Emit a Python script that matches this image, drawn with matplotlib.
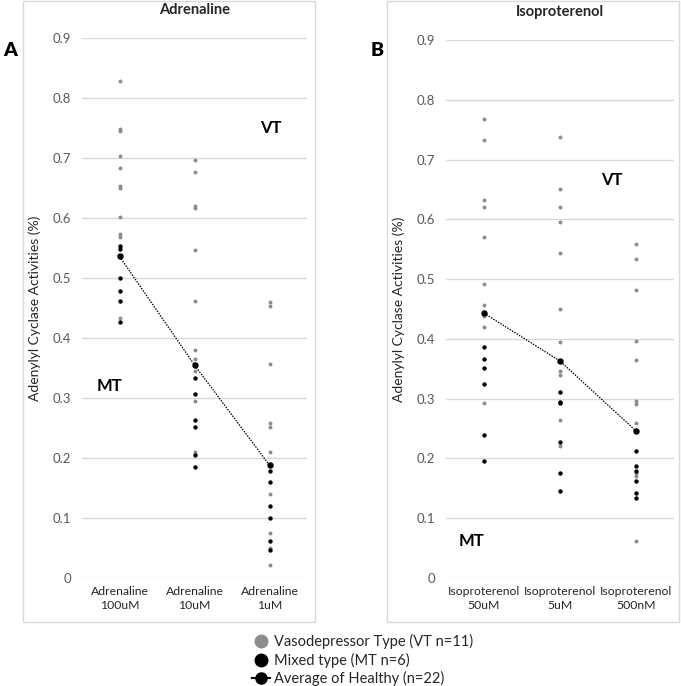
import matplotlib
matplotlib.use("Agg")
import matplotlib.pyplot as plt
from matplotlib.lines import Line2D
from matplotlib.patches import Rectangle

plt.rcParams['font.family'] = ['Lato', 'DejaVu Sans']

# data
adr_labels = ["Adrenaline\n100uM", "Adrenaline\n10uM", "Adrenaline\n1uM"]
adr_vt = [
    [0.828, 0.748, 0.745, 0.704, 0.684, 0.653, 0.650, 0.602, 0.573, 0.569, 0.433],
    [0.696, 0.676, 0.620, 0.617, 0.546, 0.462, 0.380, 0.365, 0.345, 0.295, 0.210],
    [0.460, 0.453, 0.356, 0.259, 0.251, 0.210, 0.190, 0.140, 0.075, 0.050, 0.022],
]
adr_mt = [
    [0.554, 0.548, 0.500, 0.478, 0.461, 0.426],
    [0.333, 0.307, 0.263, 0.252, 0.205, 0.185],
    [0.178, 0.160, 0.120, 0.100, 0.062, 0.047],
]
adr_avg = [0.536, 0.355, 0.188]

iso_labels = ["Isoproterenol\n50uM", "Isoproterenol\n5uM", "Isoproterenol\n500nM"]
iso_vt = [
    [0.768, 0.732, 0.632, 0.621, 0.570, 0.492, 0.457, 0.440, 0.438, 0.420, 0.293],
    [0.738, 0.651, 0.620, 0.595, 0.544, 0.450, 0.395, 0.346, 0.339, 0.265, 0.220],
    [0.559, 0.533, 0.481, 0.396, 0.365, 0.296, 0.291, 0.259, 0.175, 0.171, 0.062],
]
iso_mt = [
    [0.386, 0.367, 0.352, 0.325, 0.239, 0.196],
    [0.311, 0.294, 0.292, 0.228, 0.175, 0.145],
    [0.213, 0.188, 0.179, 0.163, 0.143, 0.134],
]
iso_avg = [0.443, 0.363, 0.246]

gray = "#8c8c8c"
grid_c = "#d9d9d9"
tick_c = "#595959"

fig = plt.figure(figsize=(6.81, 6.86), dpi=100)

# panel frames
for x0, x1 in [(23, 315), (387, 679)]:
    fig.patches.append(Rectangle((x0 / 681, 1 - 622 / 686), (x1 - x0) / 681, 621 / 686,
                                 transform=fig.transFigure, fill=False,
                                 edgecolor=grid_c, lw=1))

ax1 = fig.add_axes([82 / 681, 1 - 578 / 686, 225 / 681, 540 / 686])
ax2 = fig.add_axes([446 / 681, 1 - 578 / 686, 228 / 681, 538 / 686])


def draw(ax, vt, mt, avg, labels, title):
    for i in range(3):
        ax.scatter([i] * len(vt[i]), vt[i], s=8, color=gray, zorder=3, linewidths=0)
        ax.scatter([i] * len(mt[i]), mt[i], s=10, color="black", zorder=4, linewidths=0)
    ax.plot(range(3), avg, color="black", lw=0.9, ls=(0, (1.2, 1.0)),
            marker="o", ms=3.6, zorder=5)
    ax.set_xlim(-0.5, 2.5)
    ax.set_ylim(0, 0.9)
    ax.set_yticks([i / 10 for i in range(10)])
    ax.set_yticklabels(["0"] + [f"{i / 10:.1f}" for i in range(1, 10)])
    ax.set_xticks(range(3))
    ax.set_xticklabels(labels, fontsize=8.8, color="#262626", linespacing=1.35)
    ax.tick_params(axis="both", length=0, labelsize=9.5, labelcolor=tick_c, pad=8)
    ax.tick_params(axis="x", labelcolor="#262626", labelsize=8.8, pad=6)
    ax.yaxis.grid(True, color=grid_c, lw=1)
    ax.set_axisbelow(True)
    for s in ax.spines.values():
        s.set_visible(False)
    ax.set_ylabel("Adenylyl Cyclase Activities (%)", fontsize=10, color="#262626", labelpad=8)
    ax.set_title(title, fontsize=10.5, fontweight="bold", pad=17, color="#262626")


draw(ax1, adr_vt, adr_mt, adr_avg, adr_labels, "Adrenaline")
draw(ax2, iso_vt, iso_mt, iso_avg, iso_labels, "Isoproterenol")

ax1.text(2.02, 0.75, "VT", fontsize=12, fontweight="bold", ha="center", va="center")
ax1.text(-0.14, 0.32, "MT", fontsize=12, fontweight="bold", ha="center", va="center")
ax2.text(1.68, 0.665, "VT", fontsize=12, fontweight="bold", ha="center", va="center")
ax2.text(-0.16, 0.062, "MT", fontsize=12, fontweight="bold", ha="center", va="center")

fig.text(10 / 681, 1 - 50 / 686, "A", fontsize=14, fontweight="heavy", ha="center", va="center")
fig.text(377 / 681, 1 - 50 / 686, "B", fontsize=14, fontweight="heavy", ha="center", va="center")

handles = [
    Line2D([], [], ls="none", marker="o", ms=9, color=gray),
    Line2D([], [], ls="none", marker="o", ms=9, color="black"),
    Line2D([], [], color="black", lw=1.5, marker="o", ms=8),
]
names = ["Vasodepressor Type (VT n=11)", "Mixed type (MT n=6)", "Average of Healthy (n=22)"]
fig.legend(handles, names, loc="upper left", bbox_to_anchor=(252 / 681, 1 - 634 / 686),
           frameon=False, fontsize=10.5, handlelength=1.2, handletextpad=0.3,
           labelspacing=0.25, borderpad=0, borderaxespad=0, labelcolor="#262626")

fig.savefig("out.png", dpi=100)
